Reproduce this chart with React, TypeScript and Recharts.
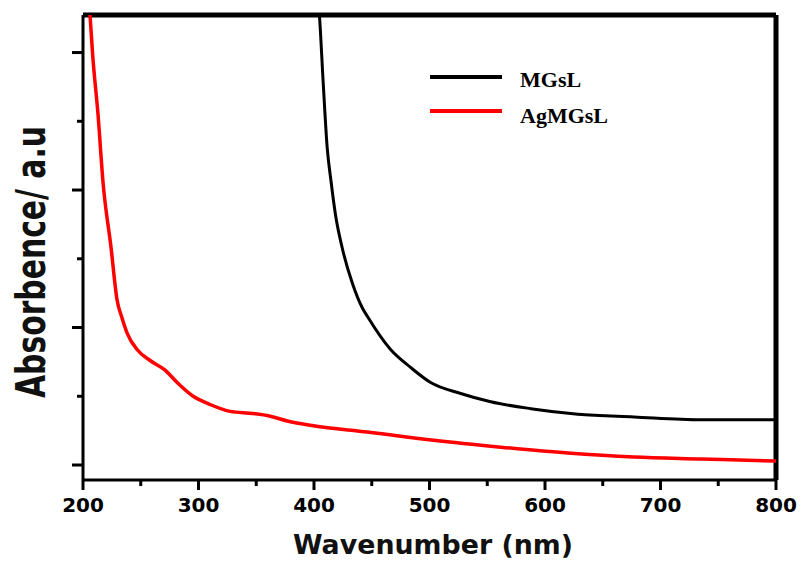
import { LineChart, Line, XAxis, YAxis, Legend, Label, ReferenceLine } from 'recharts';

// wavelength (nm) and absorbance (a.u.)
const mgslNm = [402, 404.7, 407.9, 411.4, 414.8, 418.6, 424.4, 433.3, 442, 446.3, 466.3, 483.6, 501, 527, 553, 587.7, 628.4, 677, 735.1, 800];
const mgslAbs = [3.5, 3.27, 2.79, 2.31, 2.06, 1.82, 1.58, 1.32, 1.14, 1.08, 0.84, 0.71, 0.6, 0.52, 0.46, 0.41, 0.37, 0.35, 0.33, 0.33];

const agNm = [203, 206.1, 208.4, 213, 217.3, 224.3, 229.5, 233.8, 238.2, 246.8, 258.1, 271.1, 281.5, 295.4, 310.1, 327.5, 347.4, 362.2, 376.9, 399.5, 446.3, 503.5, 561.7, 619.8, 677, 735.1, 800];
const agAbs = [3.6, 3.27, 2.98, 2.55, 2.06, 1.58, 1.2, 1.07, 0.96, 0.84, 0.76, 0.69, 0.6, 0.5, 0.44, 0.39, 0.375, 0.355, 0.32, 0.285, 0.24, 0.18, 0.13, 0.087, 0.058, 0.044, 0.029];

const xTicks = [200, 250, 300, 350, 400, 450, 500, 550, 600, 650, 700, 750, 800];
const yTicks = [0, 0.5, 1, 1.5, 2, 2.5, 3];
const xDomain = [200, 800];
const yDomain = [-0.109, 3.273];

const seriesNames = ['MGsL', 'AgMGsL'];
const seriesColors = ['#000000', '#ff0000'];

const mgslData = mgslNm.map((nm, i) => ({ nm, abs: mgslAbs[i] }));
const agData = agNm.map((nm, i) => ({ nm, abs: agAbs[i] }));

const XTick = (props: any) => {
  const { x, y, payload } = props;
  const major = payload.value % 100 === 0;
  return (
    <g>
      <line x1={x} x2={x} y1={y} y2={y + (major ? 10 : 6)} stroke="#000" strokeWidth={3} />
      {major && (
        <text x={x} y={y + 32} textAnchor="middle" fontFamily="'DejaVu Sans'" fontWeight="bold" fontSize={20} fill="#000">
          {payload.value}
        </text>
      )}
    </g>
  );
};

const YTick = (props: any) => {
  const { x, y, payload } = props;
  const major = payload.value % 1 === 0;
  return <line x1={x - (major ? 11 : 6)} x2={x} y1={y} y2={y} stroke="#000" strokeWidth={3} />;
};

const LegendBox = () => (
  <svg width={200} height={75}>
    {seriesNames.map((name, i) => (
      <g key={name}>
        <line x1={2} x2={74} y1={17 + i * 34} y2={17 + i * 34} stroke={seriesColors[i]} strokeWidth={4} />
        <text x={92} y={27 + i * 36} fontFamily="'Liberation Serif'" fontWeight="bold" fontSize={22} fill="#000">
          {name}
        </text>
      </g>
    ))}
  </svg>
);

export default function App() {
  return (
    <div style={{ position: 'absolute', left: 0, top: 0, background: '#fff' }}>
      <LineChart width={801} height={561} margin={{ top: 15, right: 25, left: 0, bottom: 0 }}>
        <XAxis
          dataKey="nm"
          type="number"
          domain={xDomain}
          ticks={xTicks}
          allowDataOverflow
          height={81}
          tickSize={0}
          tickMargin={0}
          tickLine={false}
          tick={<XTick />}
          axisLine={{ stroke: '#000', strokeWidth: 3 }}
        >
          <Label
            content={() => (
              <text x={433} y={554} textAnchor="middle" fontFamily="'DejaVu Sans'" fontWeight="bold" fontSize={27} textLength={280} lengthAdjust="spacingAndGlyphs" fill="#111">
                Wavenumber (nm)
              </text>
            )}
          />
        </XAxis>
        <YAxis
          type="number"
          domain={yDomain}
          ticks={yTicks}
          allowDataOverflow
          width={83}
          tickSize={0}
          tickMargin={0}
          tickLine={false}
          tick={<YTick />}
          axisLine={{ stroke: '#000', strokeWidth: 3 }}
        >
          <Label
            content={() => (
              <text x={45} y={262} transform="rotate(-90, 45, 262)" textAnchor="middle" fontFamily="'DejaVu Sans'" fontWeight="bold" fontSize={40} textLength={272} lengthAdjust="spacingAndGlyphs" fill="#111">
                Absorbence/ a.u
              </text>
            )}
          />
        </YAxis>
        <ReferenceLine y={yDomain[1]} stroke="#000" strokeWidth={5} />
        <ReferenceLine x={xDomain[1]} stroke="#000" strokeWidth={5} />
        <Legend
          layout="horizontal"
          verticalAlign="middle"
          align="center"
          content={<LegendBox />}
          wrapperStyle={{ position: 'absolute', left: 428, top: 60, width: 200, height: 75 }}
        />
        <Line data={mgslData} dataKey="abs" name={seriesNames[0]} type="monotone" stroke={seriesColors[0]} strokeWidth={3} dot={false} isAnimationActive={false} />
        <Line data={agData} dataKey="abs" name={seriesNames[1]} type="monotone" stroke={seriesColors[1]} strokeWidth={3.5} dot={false} isAnimationActive={false} />
      </LineChart>
    </div>
  );
}
